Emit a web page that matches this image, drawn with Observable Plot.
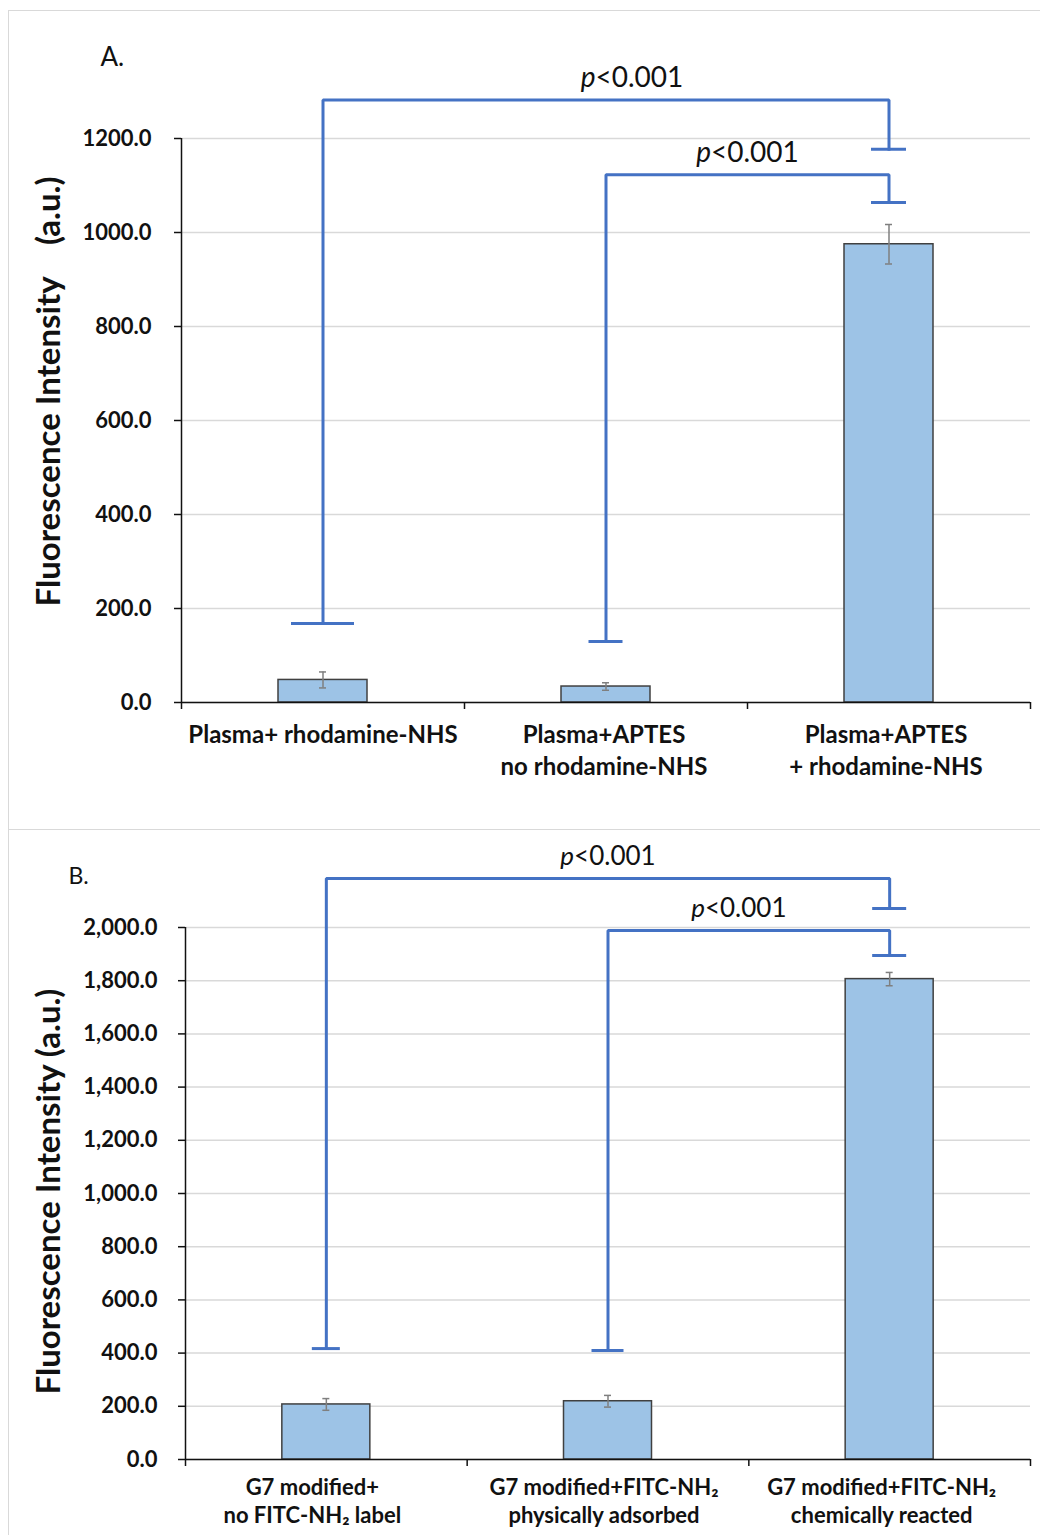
<!DOCTYPE html>
<html><head><meta charset="utf-8">
<script src="https://cdn.jsdelivr.net/npm/d3@7"></script>
<script src="https://cdn.jsdelivr.net/npm/@observablehq/plot@0.6"></script>
<style>
html,body{margin:0;padding:0;background:#fff;overflow:hidden;}
#wrap{position:relative;width:1040px;height:1535px;overflow:hidden;}
.panel{position:absolute;left:0;}
.frame{position:absolute;border:1.5px solid #d9d9d9;pointer-events:none;box-sizing:border-box;}
</style></head><body>
<div id="wrap">
  <div id="a" class="panel" style="top:0"></div>
  <div id="b" class="panel" style="top:830px"></div>
  <div class="frame" style="left:8px;top:10px;width:1060px;height:820px"></div>
  <div class="frame" style="left:8px;top:829px;width:1060px;height:740px"></div>
</div>
<script>
// ---------- Panel A data ----------
const categoriesA = ["Plasma+ rhodamine-NHS", "Plasma+APTES\nno rhodamine-NHS", "Plasma+APTES\n+ rhodamine-NHS"];
const meansA = [48, 34, 975];
const errorsA = [17, 8, 42];
const yTicksA = [0, 200, 400, 600, 800, 1000, 1200];
const bracketFromA = [0, 1];
const bracketToA = [2, 2];
const bracketTopA = [1282, 1123];
const bracketFromEndA = [168, 130];
const bracketToEndA = [1177, 1064];
const bracketLabelsA = ["p<0.001", "p<0.001"];
const yTitleA = "Fluorescence Intensity\u00a0\u00a0\u00a0\u00a0(a.u.)";
const letterA = "A.";

// ---------- Panel B data ----------
const categoriesB = ["G7 modified+\nno FITC-NH\u2082 label", "G7 modified+FITC-NH\u2082\nphysically adsorbed", "G7 modified+FITC-NH\u2082\nchemically reacted"];
const meansB = [207, 219, 1806];
const errorsB = [22, 22, 25];
const yTicksB = [0, 200, 400, 600, 800, 1000, 1200, 1400, 1600, 1800, 2000];
const bracketFromB = [0, 1];
const bracketToB = [2, 2];
const bracketTopB = [2184, 1989];
const bracketFromEndB = [417, 410];
const bracketToEndB = [2071, 1895];
const bracketLabelsB = ["p<0.001", "p<0.001"];
const yTitleB = "Fluorescence Intensity (a.u.)";
const letterB = "B.";

const FONT = "Lato, 'Noto Sans', 'DejaVu Sans', sans-serif";
const BLUE = "#4472C4";

function panel(d, L) {
  const n = d.cats.length;
  const bw = (L.width - L.marginLeft - L.marginRight) / n;
  const bars = d.cats.map((c, i) => ({i, c, m: d.mean[i], e: d.err[i]}));
  const path = [];
  const caps = [];
  d.from.forEach((f, k) => {
    const t = d.to[k];
    path.push({k, x: f + 0.5, y: d.fromEnd[k]}, {k, x: f + 0.5, y: d.top[k]},
              {k, x: t + 0.5, y: d.top[k]}, {k, x: t + 0.5, y: d.toEnd[k]});
    caps.push({i: f, y: d.fromEnd[k], w: L.capFrom[k]}, {i: t, y: d.toEnd[k], w: L.capTo[k]});
  });
  const barInset = (bw - L.barW) / 2;
  const ebInset = (bw - 7) / 2;
  const capMarks = caps.map(c => Plot.ruleY([c], {x1: "i", x2: v => v.i + 1, y: "y",
      insetLeft: (bw - c.w) / 2, insetRight: (bw - c.w) / 2, stroke: BLUE, strokeWidth: 3}));
  const labelMarks = d.labels.map((s, k) => Plot.text([{s, x: (d.from[k] + d.to[k]) / 2 + 0.5, y: d.top[k]}],
      {x: "x", y: "y", text: "s", dx: L.pDx[k], dy: -22, fontSize: L.pSize, fill: "#111", lineAnchor: "middle"}));
  const catMarks = bars.map(b => Plot.text([b], {x: v => v.i + 0.5, y: 0, text: "c", dx: L.catDx[b.i], dy: L.catDy,
      lineAnchor: "top", textAnchor: "middle", fontSize: L.catSize, fontWeight: "bold", lineHeight: L.catLine, fill: "#111"}));
  const chart = Plot.plot({
    width: L.width, height: L.height,
    marginLeft: L.marginLeft, marginRight: L.marginRight, marginTop: L.marginTop, marginBottom: L.marginBottom,
    x: {domain: [0, n]},
    y: {domain: [0, d.ticks[d.ticks.length - 1]]},
    style: {fontFamily: FONT, background: "transparent", color: "#111", overflow: "visible"},
    marks: [
      Plot.gridY(d.ticks, {stroke: "#d9d9d9", strokeOpacity: 1, strokeWidth: 1.5}),
      Plot.rectY(bars, {x1: "i", x2: v => v.i + 1, y1: 0, y2: "m", insetLeft: barInset, insetRight: barInset,
        fill: "#9DC3E6", stroke: "#404040", strokeWidth: 1.5}),
      Plot.ruleX(bars, {x: v => v.i + 0.5, y1: v => v.m - v.e, y2: v => v.m + v.e, stroke: "#7f7f7f", strokeWidth: 1.5}),
      Plot.ruleY(bars, {x1: "i", x2: v => v.i + 1, y: v => v.m + v.e, insetLeft: ebInset, insetRight: ebInset, stroke: "#7f7f7f", strokeWidth: 1.5}),
      Plot.ruleY(bars, {x1: "i", x2: v => v.i + 1, y: v => v.m - v.e, insetLeft: ebInset, insetRight: ebInset, stroke: "#7f7f7f", strokeWidth: 1.5}),
      Plot.ruleX([0], {stroke: "#111", strokeWidth: 1.5}),
      Plot.ruleY([0], {stroke: "#111", strokeWidth: 1.5}),
      Plot.axisY({ticks: d.ticks, tickFormat: d.fmt, tickSize: 7, tickPadding: L.tickPadding, fontSize: 22, fontWeight: "bold", label: null, strokeWidth: 1.5}),
      Plot.axisX({ticks: d3.range(n + 1), tickSize: 7, tickFormat: () => "", label: null, strokeWidth: 1.5}),
      ...catMarks,
      Plot.line(path, {x: "x", y: "y", z: "k", stroke: BLUE, strokeWidth: 3, strokeLinejoin: "miter", strokeLinecap: "square"}),
      ...capMarks,
      ...labelMarks,
      Plot.text([d.title], {frameAnchor: "left", rotate: -90, textAnchor: "middle", lineAnchor: "middle", dx: L.titleDx, dy: L.titleDy, fontSize: 33, fontWeight: "bold", fill: "#111"}),
      Plot.text([d.letter], {frameAnchor: "top-left", dx: L.letterDx, dy: L.letterDy, textAnchor: "start", lineAnchor: "middle", fontSize: L.letterSize, fill: "#111"})
    ]
  });
  d3.select(chart).selectAll("text").filter(function() { return this.textContent === "p<0.001"; })
    .each(function() {
      const t = d3.select(this);
      t.text(null);
      t.append("tspan").attr("font-style", "italic").text("p");
      t.append("tspan").text("<0.001");
    });
  return chart;
}

document.getElementById("a").appendChild(panel(
  {cats: categoriesA, mean: meansA, err: errorsA, ticks: yTicksA, from: bracketFromA, to: bracketToA,
   top: bracketTopA, fromEnd: bracketFromEndA, toEnd: bracketToEndA, labels: bracketLabelsA,
   fmt: v => v.toFixed(1), title: yTitleA, letter: letterA},
  {width: 1040, height: 830, marginLeft: 181, marginRight: 10, marginTop: 138, marginBottom: 128,
   barW: 89, capFrom: [63, 34], capTo: [35, 35], tickPadding: 23, catDy: 18, catSize: 24, catLine: 1.33,
   catDx: [0, -2, -3], pSize: 28, pDx: [26, 0],
   titleDx: -132, titleDy: -29, letterDx: -81, letterDy: -81, letterSize: 26}
));

document.getElementById("b").appendChild(panel(
  {cats: categoriesB, mean: meansB, err: errorsB, ticks: yTicksB, from: bracketFromB, to: bracketToB,
   top: bracketTopB, fromEnd: bracketFromEndB, toEnd: bracketToEndB, labels: bracketLabelsB,
   fmt: d3.format(",.1f"), title: yTitleB, letter: letterB},
  {width: 1040, height: 705, marginLeft: 185, marginRight: 10, marginTop: 97, marginBottom: 76,
   barW: 88, capFrom: [28, 32], capTo: [34, 34], tickPadding: 21, catDy: 16, catSize: 22, catLine: 1.27,
   catDx: [-14, -4, -8], pSize: 26, pDx: [0, -10],
   titleDx: -136, titleDy: -2, letterDx: -117, letterDy: -51, letterSize: 23}
));
</script>
</body></html>
